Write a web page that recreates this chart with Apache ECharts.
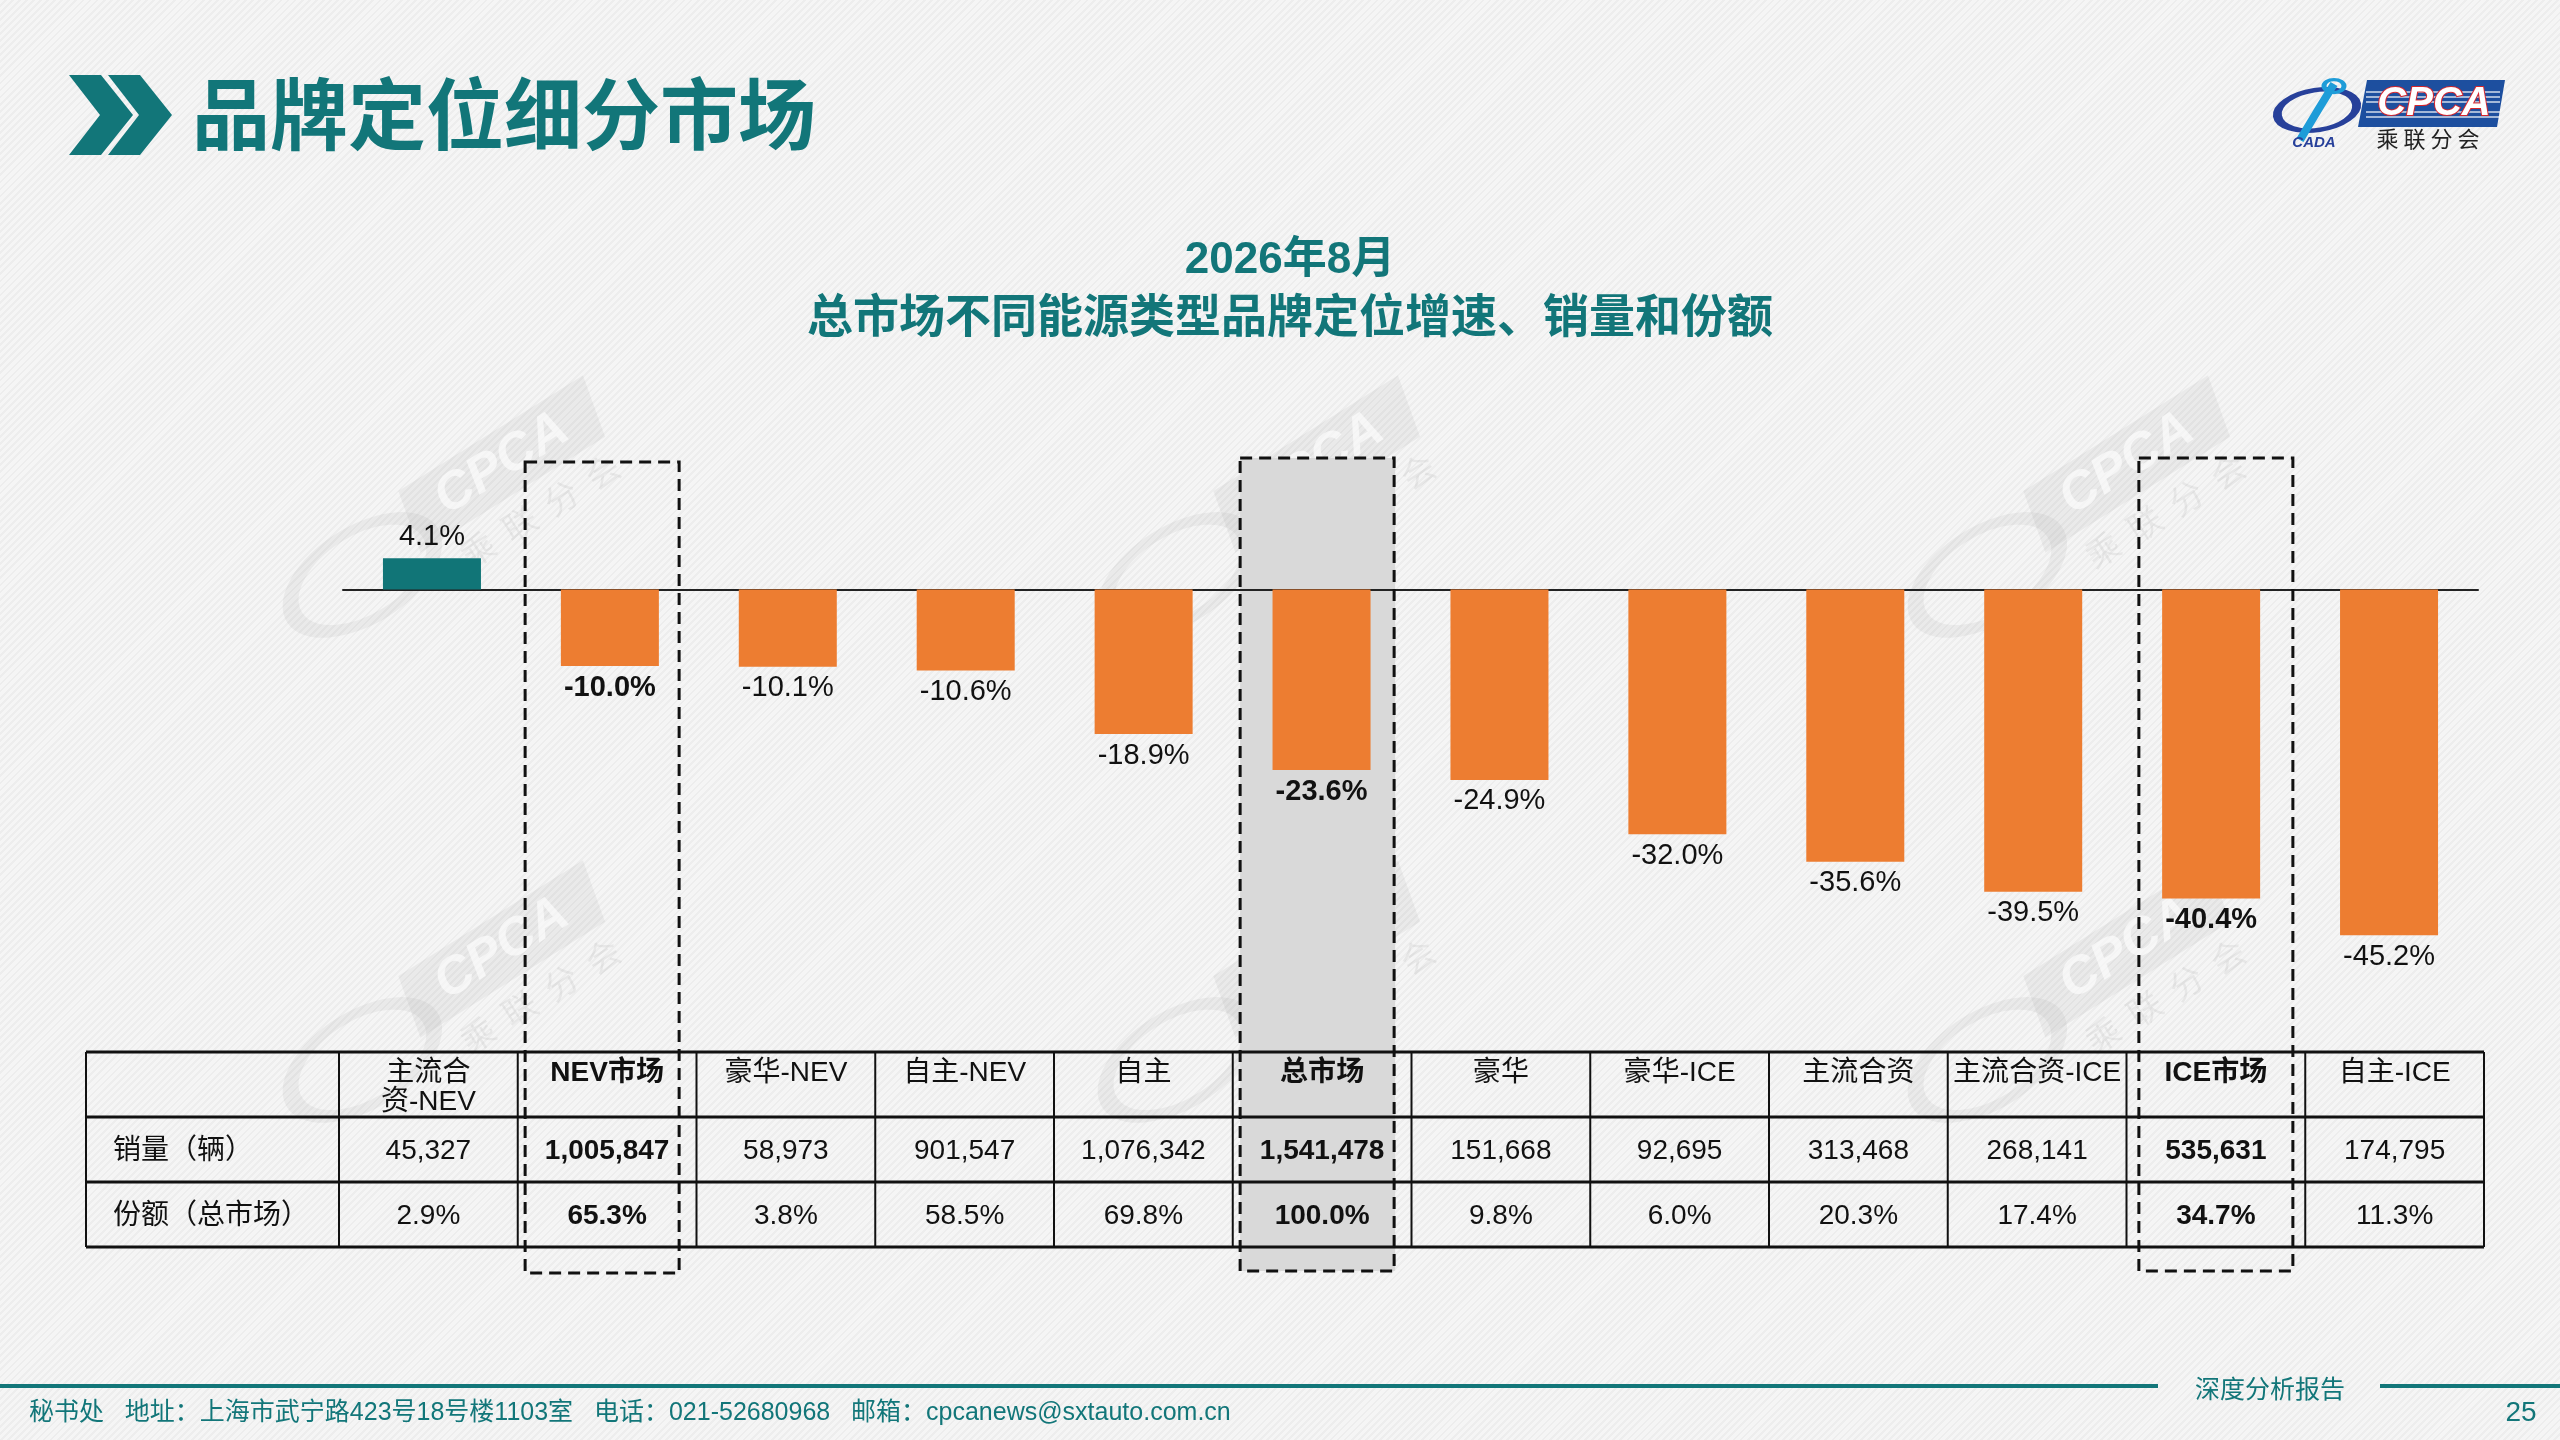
<!DOCTYPE html>
<html>
<head>
<meta charset="utf-8">
<script src="https://cdn.jsdelivr.net/npm/echarts@6/dist/echarts.min.js"></script>
<style>
  html, body { margin: 0; padding: 0; }
  body {
    background: repeating-linear-gradient(135deg, #f5f5f5 0px, #f5f5f5 3px, #ededed 3px, #ededed 5px);
  }
  #main { width: 2560px; height: 1440px; }
</style>
</head>
<body>
<div id="main"></div>
<script>
// 品牌定位 (表头顺序)
var categories = ['主流合资-NEV', 'NEV市场', '豪华-NEV', '自主-NEV', '自主', '总市场',
  '豪华', '豪华-ICE', '主流合资', '主流合资-ICE', 'ICE市场', '自主-ICE'];
var headerLabels = ['主流合\n资-NEV', 'NEV市场', '豪华-NEV', '自主-NEV', '自主', '总市场',
  '豪华', '豪华-ICE', '主流合资', '主流合资-ICE', 'ICE市场', '自主-ICE'];

// 同比增速 (%)
var growth = [4.1, -10.0, -10.1, -10.6, -18.9, -23.6, -24.9, -32.0, -35.6, -39.5, -40.4, -45.2];

// 销量 (辆)
var sales = [45327, 1005847, 58973, 901547, 1076342, 1541478, 151668, 92695, 313468, 268141, 535631, 174795];

// 份额 (总市场, %)
var shares = [2.9, 65.3, 3.8, 58.5, 69.8, 100.0, 9.8, 6.0, 20.3, 17.4, 34.7, 11.3];

var rowNames = ['销量（辆）', '份额（总市场）'];
var boldCols = [1, 5, 10];   // 虚线框
var grayCol = 5;             // 灰底

var teal = '#127679';
var latin = '"Liberation Sans", "Noto Sans CJK SC", sans-serif';
var cjk = '"Noto Sans CJK SC", sans-serif';

var chart = echarts.init(document.getElementById('main'));

var option = {
  animation: false,
  backgroundColor: 'transparent',
  grid: { left: 343, right: 82, top: 513, height: 459 },
  xAxis: {
    type: 'category',
    data: categories,
    axisLine: { onZero: true, lineStyle: { color: '#222', width: 2 } },
    axisTick: { show: false },
    axisLabel: { show: false },
    splitLine: { show: false }
  },
  yAxis: { type: 'value', min: -50, max: 10, show: false },
  series: [{
    type: 'bar',
    barWidth: 98,
    z: 5,
    data: growth.map(function (v, i) {
      return {
        value: v,
        itemStyle: { color: v >= 0 ? '#117577' : '#ED7D31' },
        label: {
          position: v >= 0 ? 'top' : 'bottom',
          fontWeight: boldCols.indexOf(i) >= 0 ? 'bold' : 'normal'
        }
      };
    }),
    label: {
      show: true,
      distance: 7,
      fontSize: 29,
      fontFamily: latin,
      color: '#111',
      formatter: function (p) { return p.value.toFixed(1) + '%'; }
    }
  }]
};

chart.setOption(option);

// 表格列 (与柱子略有错位)
var tableLeft = 86;
var tableX0 = 339;
var band = 178.75;
var cx = categories.map(function (c, i) { return tableX0 + band * (i + 0.5); });

function txt(text, x, y, size, color, extra) {
  var s = {
    text: text, x: x, y: y, fontSize: size, fill: color, fontFamily: latin,
    align: 'center', textAlign: 'center', verticalAlign: 'middle', textVerticalAlign: 'middle'
  };
  for (var k in extra) s[k] = extra[k];
  return { type: 'text', z: 12, silent: true, style: s };
}

function line(x1, y1, x2, y2, w, color, z) {
  return { type: 'line', z: z || 11, silent: true,
    shape: { x1: x1, y1: y1, x2: x2, y2: y2 },
    style: { stroke: color, lineWidth: w } };
}

function watermark(x, y) {
  return {
    type: 'group', x: x, y: y, rotation: 0.56, z: 1, silent: true,
    children: [
      { type: 'polygon', shape: { points: [[-100, -32], [118, -32], [104, 32], [-114, 32]] },
        style: { fill: 'rgba(0,0,0,0.045)' } },
      { type: 'text', style: { text: 'CPCA', x: 2, y: 0, fontSize: 52, fontStyle: 'italic', fontWeight: 'bold',
        fontFamily: latin, fill: 'rgba(255,255,255,0.6)', align: 'center', verticalAlign: 'middle',
        textAlign: 'center', textVerticalAlign: 'middle' } },
      { type: 'text', style: { text: '乘  联  分  会', x: 10, y: 60, fontSize: 34, fontFamily: cjk,
        fill: 'rgba(0,0,0,0.055)', align: 'center', verticalAlign: 'middle',
        textAlign: 'center', textVerticalAlign: 'middle' } },
      { type: 'circle', x: -175, y: 20, scaleY: 0.55, shape: { cx: 0, cy: 0, r: 80 },
        style: { fill: 'none', stroke: 'rgba(0,0,0,0.045)', lineWidth: 18 } }
    ]
  };
}

function logo() {
  var kids = [
    { type: 'circle', x: 2317, y: 110, rotation: 0.15, scaleY: 0.5, shape: { cx: 0, cy: 0, r: 40 },
      style: { fill: 'none', stroke: '#27409A', lineWidth: 9 } },
    { type: 'polyline', shape: { points: [[2300, 140], [2318, 110], [2334, 84]] },
      style: { stroke: '#1E9CD8', lineWidth: 8, fill: 'none' } },
    { type: 'circle', x: 2334, y: 86, scaleY: 0.65, shape: { cx: 0, cy: 0, r: 10 },
      style: { fill: 'none', stroke: '#1E9CD8', lineWidth: 5 } },
    { type: 'text', style: { text: 'CADA', x: 2314, y: 143, fontSize: 15, fontStyle: 'italic', fontWeight: 'bold',
      fontFamily: latin, fill: '#27409A', align: 'center', verticalAlign: 'middle',
      textAlign: 'center', textVerticalAlign: 'middle' } },
    { type: 'polygon', shape: { points: [[2367, 80], [2505, 80], [2497, 127], [2358, 127]] },
      style: { fill: '#1D4F9F' } }
  ];
  [92, 97, 102, 112, 117].forEach(function (y) {
    kids.push({ type: 'line', shape: { x1: 2366, y1: y, x2: 2500, y2: y },
      style: { stroke: 'rgba(255,255,255,0.8)', lineWidth: 1.5 } });
  });
  kids.push({ type: 'text', style: { text: 'CPCA', x: 2434, y: 104, fontSize: 40, fontStyle: 'italic',
    fontWeight: 'bold', fontFamily: latin, fill: '#fff', stroke: '#D7262C', lineWidth: 2,
    align: 'center', verticalAlign: 'middle', textAlign: 'center', textVerticalAlign: 'middle' } });
  kids.push({ type: 'text', style: { text: '乘 联 分 会', x: 2428, y: 139, fontSize: 22, fontFamily: cjk,
    fill: '#222', align: 'center', verticalAlign: 'middle', textAlign: 'center', textVerticalAlign: 'middle' } });
  return { type: 'group', z: 20, silent: true, children: kids };
}

var g = [];

// 水印
[500, 1315, 2125].forEach(function (x) {
  g.push(watermark(x, 465));
  g.push(watermark(x, 950));
});

// 大标题
g.push({ type: 'polygon', z: 20, shape: { points: [[69, 75], [101, 75], [133, 115], [101, 155], [69, 155], [100, 115]] },
  style: { fill: teal } });
g.push({ type: 'polygon', z: 20, shape: { points: [[108, 75], [140, 75], [172, 115], [140, 155], [108, 155], [139, 115]] },
  style: { fill: teal } });
g.push(txt('品牌定位细分市场', 192, 114, 78, teal, { fontFamily: cjk, fontWeight: 'bold', align: 'left', textAlign: 'left' }));

// 图标题
g.push(txt('2026年8月', 1290, 261, 44, teal, { fontFamily: latin, fontWeight: 'bold' }));
g.push(txt('总市场不同能源类型品牌定位增速、销量和份额', 1290, 315, 46, teal, { fontFamily: cjk, fontWeight: 'bold' }));

// 灰底列
g.push({ type: 'rect', z: 0, silent: true,
  shape: { x: cx[grayCol] - 82, y: 458, width: 155, height: 813 },
  style: { fill: '#D9D9D9' } });

// 表格
var rowsY = [1052, 1117, 1182, 1247];
var tableRight = tableX0 + band * categories.length;
rowsY.forEach(function (y) { g.push(line(tableLeft, y, tableRight, y, 3, '#111')); });
var edges = [tableLeft];
cx.forEach(function (x) { edges.push(x - band / 2); });
edges.push(tableRight);
edges.forEach(function (x) { g.push(line(x, rowsY[0], x, rowsY[3], 2, '#111')); });

headerLabels.forEach(function (h, i) {
  var b = boldCols.indexOf(i) >= 0 ? 'bold' : 'normal';
  g.push(txt(h, cx[i], 1059, 28, '#111', { fontWeight: b, lineHeight: 29, verticalAlign: 'top', textVerticalAlign: 'top' }));
  g.push(txt(sales[i].toLocaleString('en-US'), cx[i], 1151, 28, '#111', { fontWeight: b }));
  g.push(txt(shares[i].toFixed(1) + '%', cx[i], 1216, 28, '#111', { fontWeight: b }));
});
g.push(txt(rowNames[0], 113, 1151, 28, '#111', { align: 'left', textAlign: 'left' }));
g.push(txt(rowNames[1], 113, 1216, 28, '#111', { align: 'left', textAlign: 'left' }));

// 虚线框
boldCols.forEach(function (i) {
  g.push({ type: 'rect', z: 13, silent: true,
    shape: { x: cx[i] - (i === 10 ? 77 : 82), y: i === 1 ? 462 : 458, width: 154, height: i === 1 ? 811 : 813 },
    style: { fill: 'none', stroke: '#111', lineWidth: 3, lineDash: [12, 7] } });
});

// 页脚
g.push(line(0, 1386, 2158, 1386, 4, teal, 20));
g.push(line(2380, 1386, 2560, 1386, 4, teal, 20));
g.push(txt('深度分析报告', 2270, 1388, 25, teal, { fontFamily: cjk }));
g.push(txt('秘书处   地址：上海市武宁路423号18号楼1103室   电话：021-52680968   邮箱：cpcanews@sxtauto.com.cn',
  29, 1413, 25, teal, { align: 'left', textAlign: 'left' }));
g.push(txt('25', 2521, 1413, 28, teal, {}));

g.push(logo());

chart.setOption({ graphic: g });
</script>
</body>
</html>
